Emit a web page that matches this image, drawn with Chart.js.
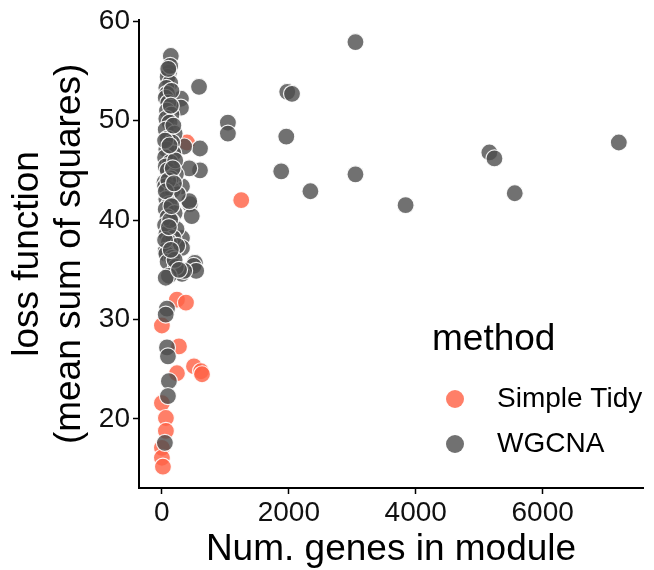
<!DOCTYPE html>
<html>
<head>
<meta charset="utf-8">
<script src="https://cdn.jsdelivr.net/npm/chart.js@4"></script>
<style>
  html, body { margin: 0; padding: 0; background: #fff; }
  #wrap { width: 654px; height: 570px; }
</style>
</head>
<body>
<div id="wrap"><canvas id="myChart" width="654" height="570"></canvas></div>
<script>
// series names
const methods = ["Simple Tidy", "WGCNA"];

// Simple Tidy points (num genes, loss)
const tidyX = [1250, 395, 237, 379, 0, 269, 505, 616, 632, 237, 0, 63, 63, 0, 0, 16];
const tidyY = [42.0, 47.8, 32.0, 31.7, 29.4, 27.3, 25.3, 24.8, 24.5, 24.6, 21.6, 20.1, 18.8, 17.1, 16.1, 15.2];

// WGCNA points (num genes, loss)
const wgcnaX = [
  3050, 1975, 2050, 1960, 1880, 2340, 3050, 3840, 5160, 5240, 5560, 7200,
  1040, 1040, 585, 600, 600, 430, 440, 470, 520, 500, 540, 316, 350, 316,
  430, 316, 316, 350, 300, 300,
  140, 110, 90, 130, 70, 80, 60, 100, 80, 150, 70, 120, 60, 200, 90, 160,
  70, 180, 50, 130, 60, 90, 220, 140, 40, 50, 170, 250, 70, 120, 60, 200,
  90, 150, 50, 230, 70, 180, 110, 240, 60, 70, 160, 90, 220, 110, 60, 80,
  60, 80, 95, 110, 95, 47, 130, 150, 180, 50, 210, 100, 60, 130, 50, 200,
  100, 140, 120, 170, 190, 150, 110, 140, 270
];
const wgcnaY = [
  57.9, 52.9, 52.7, 48.4, 44.9, 42.9, 44.6, 41.5, 46.8, 46.2, 42.7, 47.8,
  49.8, 48.7, 53.4, 47.2, 45.0, 45.2, 41.6, 40.4, 35.7, 35.4, 34.9, 34.6, 47.4, 43.4,
  41.9, 38.2, 37.2, 34.9, 52.2, 51.3,
  56.5, 54.8, 54.4, 53.8, 53.3, 52.7, 52.3, 51.8, 51.0, 50.6, 50.2, 49.8, 49.1, 48.7, 48.2, 47.8,
  47.1, 46.7, 46.3, 45.8, 45.4, 45.0, 44.6, 44.2, 43.8, 43.4, 43.0, 42.6, 42.1, 41.6, 41.1, 40.7,
  40.3, 39.9, 39.5, 39.1, 38.6, 38.2, 37.8, 37.4, 36.9, 36.6, 36.2, 35.8, 35.3, 34.4, 34.2, 31.1,
  30.5, 27.2, 26.3, 23.8, 22.3, 17.6, 55.5, 53.0, 49.5, 48.0, 46.0, 44.0, 42.9, 40.0, 38.0, 36.0,
  55.2, 51.5, 47.5, 45.2, 43.7, 41.4, 39.3, 37.0, 35.0
];

// tick labels
const xTicks = [0, 2000, 4000, 6000];
const yTicks = [20, 30, 40, 50, 60];

const colors = ["rgba(255,99,71,0.82)", "rgba(77,77,77,0.8)"];
const fontFam = "'Liberation Sans', Arial, sans-serif";

function toPoints(xs, ys) {
  return xs.map((x, i) => ({ x: x, y: ys[i] }));
}

// legend drawn inside the plot like ggplot
const legendPlugin = {
  id: 'ggLegend',
  afterDraw(chart) {
    const c = chart.ctx;
    c.save();
    c.fillStyle = '#000';
    c.textBaseline = 'middle';
    c.textAlign = 'left';
    c.font = '37px ' + fontFam;
    c.fillText('method', 432, 340);
    c.font = '28px ' + fontFam;
    methods.forEach((m, i) => {
      const y = 399 + i * 45;
      c.beginPath();
      c.arc(455, y, 9, 0, Math.PI * 2);
      c.fillStyle = colors[i];
      c.fill();
      c.fillStyle = '#000';
      c.fillText(m, 497, y);
    });
    c.restore();
  }
};

const ctx = document.getElementById('myChart').getContext('2d');
const myChart = new Chart(ctx, {
  type: 'scatter',
  data: {
    datasets: [
      {
        label: methods[0],
        data: toPoints(tidyX, tidyY),
        backgroundColor: colors[0],
        borderColor: "rgba(255,255,255,0.9)",
        borderWidth: 1.2,
        pointRadius: 8.5,
        order: 2
      },
      {
        label: methods[1],
        data: toPoints(wgcnaX, wgcnaY),
        backgroundColor: colors[1],
        borderColor: "rgba(255,255,255,0.9)",
        borderWidth: 1.2,
        pointRadius: 8.5,
        order: 1
      }
    ]
  },
  options: {
    responsive: false,
    animation: false,
    layout: { padding: { top: 18, right: 11, left: 0, bottom: 0 } },
    plugins: {
      legend: { display: false },
      tooltip: { enabled: false }
    },
    scales: {
      x: {
        type: 'linear',
        min: -361,
        max: 7581,
        afterBuildTicks: (axis) => { axis.ticks = xTicks.map(v => ({ value: v })); },
        afterFit: (axis) => { axis.height = 82; },
        grid: { drawOnChartArea: false, drawTicks: true, tickLength: 6, color: '#000', tickWidth: 1.5 },
        border: { display: true, color: '#000', width: 2 },
        ticks: {
          color: '#111',
          font: { size: 28, family: fontFam },
          padding: 2,
          maxRotation: 0,
          callback: (v) => String(v)
        },
        title: {
          display: true,
          text: 'Num. genes in module',
          color: '#000',
          font: { size: 37, family: fontFam, lineHeight: 1.1 },
          padding: { top: 0, bottom: 0 }
        }
      },
      y: {
        type: 'linear',
        min: 13.06,
        max: 60.14,
        afterBuildTicks: (axis) => { axis.ticks = yTicks.map(v => ({ value: v })); },
        afterFit: (axis) => { axis.width = 139; },
        grid: { drawOnChartArea: false, drawTicks: true, tickLength: 6, color: '#000', tickWidth: 1.5 },
        border: { display: true, color: '#000', width: 2 },
        ticks: { color: '#111', font: { size: 28, family: fontFam }, padding: 3 },
        title: {
          display: true,
          text: ['loss function', '(mean sum of squares)'],
          color: '#000',
          font: { size: 37, family: fontFam, lineHeight: 1.13 },
          padding: { top: 7, bottom: 0 }
        }
      }
    }
  },
  plugins: [legendPlugin]
});
</script>
</body>
</html>
